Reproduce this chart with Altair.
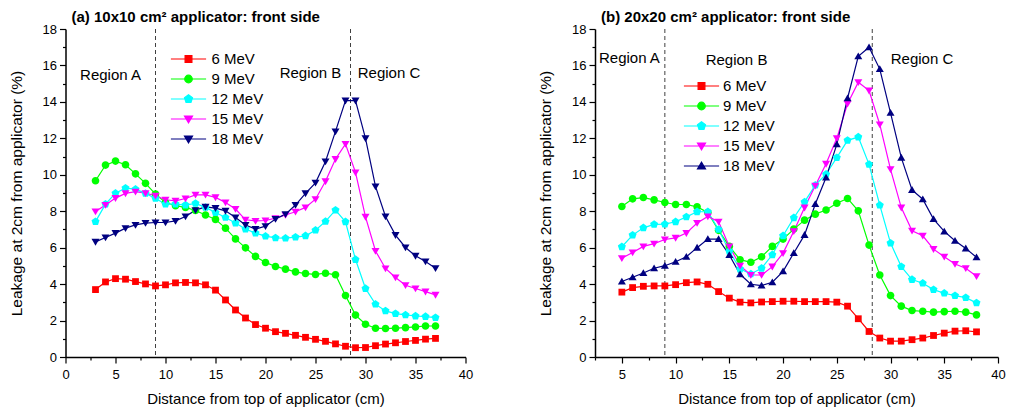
import altair as alt
import pandas as pd

FONT = "Liberation Sans"
series = ["6 MeV", "9 MeV", "12 MeV", "15 MeV", "18 MeV"]
colors = ["#FF0000", "#00FF00", "#00FFFF", "#FF00FF", "#000080"]

# ---- panel (a): 10x10 cm2 applicator ----
a_x = list(range(3, 38))
a_6 = [3.70, 4.12, 4.30, 4.27, 4.14, 4.01, 3.90, 3.96, 4.07, 4.09,
       4.07, 3.96, 3.67, 3.13, 2.58, 2.14, 1.78, 1.58, 1.39, 1.30,
       1.19, 1.08, 0.97, 0.86, 0.72, 0.59, 0.51, 0.52, 0.62, 0.71,
       0.78, 0.85, 0.91, 0.98, 1.02]
a_9 = [9.67, 10.53, 10.75, 10.55, 10.05, 9.53, 8.94, 8.48, 8.30, 8.21,
       8.04, 7.79, 7.55, 7.07, 6.48, 5.99, 5.52, 5.19, 4.97, 4.82,
       4.67, 4.58, 4.53, 4.60, 4.51, 3.37, 2.30, 1.80, 1.58, 1.56,
       1.58, 1.61, 1.65, 1.70, 1.70]
a_12 = [7.43, 8.39, 8.99, 9.27, 9.21, 8.98, 8.70, 8.39, 8.39, 8.34,
        8.43, 8.21, 7.93, 7.66, 7.35, 7.02, 6.80, 6.63, 6.54, 6.52,
        6.58, 6.65, 6.96, 7.44, 8.06, 7.42, 5.35, 3.76, 2.90, 2.53,
        2.38, 2.31, 2.25, 2.22, 2.16]
a_15 = [7.99, 8.34, 8.72, 8.98, 9.07, 8.99, 8.85, 8.63, 8.57, 8.70,
        8.90, 8.90, 8.76, 8.48, 8.12, 7.53, 7.47, 7.49, 7.62, 7.79,
        7.97, 8.21, 8.66, 9.64, 10.86, 11.69, 10.13, 7.69, 5.82, 4.86,
        4.36, 3.94, 3.76, 3.59, 3.41]
a_18 = [6.32, 6.56, 6.80, 7.07, 7.25, 7.35, 7.38, 7.38, 7.47, 7.71,
        8.06, 8.24, 8.17, 8.02, 7.66, 7.24, 7.02, 7.18, 7.57, 7.84,
        8.34, 8.98, 9.56, 10.73, 12.38, 14.07, 14.07, 12.00, 9.36, 7.71,
        6.69, 6.01, 5.55, 5.24, 4.87]

# ---- panel (b): 20x20 cm2 applicator ----
b_x = list(range(5, 39))
b_6 = [3.56, 3.81, 3.88, 3.90, 3.90, 3.97, 4.08, 4.12, 3.99, 3.59,
       3.23, 3.01, 2.97, 3.02, 3.04, 3.06, 3.06, 3.04, 3.04, 3.04,
       3.01, 2.79, 2.10, 1.40, 1.04, 0.87, 0.87, 0.95, 1.04, 1.18,
       1.31, 1.42, 1.44, 1.38]
b_9 = [8.26, 8.68, 8.75, 8.62, 8.48, 8.37, 8.37, 8.24, 7.93, 6.95,
       6.07, 5.34, 5.20, 5.50, 6.07, 6.47, 7.02, 7.51, 7.84, 8.07,
       8.44, 8.70, 8.02, 6.14, 4.50, 3.37, 2.79, 2.55, 2.51, 2.46,
       2.49, 2.51, 2.46, 2.31]
b_12 = [6.05, 6.69, 7.09, 7.28, 7.29, 7.42, 7.69, 7.97, 7.97, 7.00,
        5.80, 4.83, 4.56, 4.87, 5.61, 6.65, 7.64, 8.51, 9.43, 10.03,
        10.94, 11.89, 12.07, 10.57, 8.33, 6.25, 4.96, 4.25, 4.05, 3.70,
        3.50, 3.37, 3.26, 2.97]
b_15 = [5.42, 5.74, 6.07, 6.22, 6.45, 6.54, 6.80, 7.35, 7.71, 7.42,
        6.07, 5.01, 4.50, 4.50, 4.96, 5.70, 6.90, 8.20, 9.40, 10.60,
        12.00, 13.90, 15.08, 14.62, 12.76, 10.30, 8.20, 6.93, 6.65, 5.92,
        5.50, 5.10, 4.87, 4.43]
b_18 = [4.14, 4.38, 4.61, 4.87, 5.01, 5.23, 5.50, 6.00, 6.47, 6.47,
        5.60, 4.54, 3.99, 3.92, 4.10, 4.70, 5.71, 6.70, 8.40, 9.85,
        11.67, 14.20, 16.50, 17.00, 15.80, 13.40, 10.94, 9.17, 8.66, 7.57,
        6.89, 6.38, 5.96, 5.47]

# region boundaries and labels
a_dashes = [9.0, 28.5]
b_dashes = [9.0, 28.3]
region_names = ["Region A", "Region B", "Region C"]
a_region_x = [4.5, 24.5, 32.35]
a_region_y = [15.45, 15.6, 15.6]
b_region_x = [5.7, 15.67, 32.93]
b_region_y = [16.4, 16.32, 16.36]

y_major = list(range(0, 19, 2))
y_minor = list(range(1, 18, 2))
a_xmajor = list(range(0, 41, 5))
a_xminor = [2.5 + 5 * i for i in range(8)]
b_xmajor = list(range(5, 41, 5))
b_xminor = [2.5 + 5 * i for i in range(8)]

# marker shapes (custom paths) and legend symbols (line + marker)
LINE = "M-4.4,0H4.4"
SQ = "M-0.85,-0.85H0.85V0.85H-0.85Z"
CI = "M0.95,0A0.95,0.95,0,1,1,-0.95,0A0.95,0.95,0,1,1,0.95,0Z"
PE = "M0,-1.05L1,-0.32L0.62,0.85L-0.62,0.85L-1,-0.32Z"
TD = "M-1,-0.75H1L0,0.95Z"
TU = "M-1,0.75H1L0,-0.95Z"
a_shapes = [SQ, CI, PE, TD, TD]
b_shapes = [SQ, CI, PE, TD, TU]


def make_df(xs, cols):
    rows = []
    for s, vals in zip(series, cols):
        for xv, yv in zip(xs, vals):
            rows.append({"x": xv, "v": yv, "series": s})
    return pd.DataFrame(rows)


def panel(df, xdom, xmaj, xmin, dashes, rx, ry, title, shapes,
          width, height, lx, ly, lo):
    xsc = alt.Scale(domain=xdom, nice=False, zero=False)
    ysc = alt.Scale(domain=[0, 18], nice=False, zero=False)
    xax = alt.Axis(values=xmaj, title="Distance from top of applicator (cm)",
                   tickSize=6, tickWidth=1.2, tickColor="black",
                   domainColor="black", domainWidth=1.5, grid=False,
                   labelFont=FONT, labelFontSize=13, labelColor="black",
                   labelPadding=5, labelFlush=False, labelOverlap=False,
                   format="d", titleFont=FONT, titleFontSize=15,
                   titleFontWeight="normal", titleColor="black",
                   titlePadding=10)
    yax = alt.Axis(values=y_major, title="Leakage at 2cm from applicator (%)",
                   tickSize=6, tickWidth=1.2, tickColor="black",
                   domainColor="black", domainWidth=1.5, grid=False,
                   labelFont=FONT, labelFontSize=13, labelColor="black",
                   labelPadding=3, labelFlush=False, labelOverlap=False,
                   format="d", titleFont=FONT, titleFontSize=15.5,
                   titleFontWeight="normal", titleColor="black",
                   titlePadding=18)
    X = alt.X("x:Q", scale=xsc, axis=xax)
    Y = alt.Y("v:Q", scale=ysc, axis=yax)
    col = alt.Color("series:N", scale=alt.Scale(domain=series, range=colors),
                    legend=None)
    base = alt.Chart(df)

    dash = alt.Chart(pd.DataFrame({"x": dashes})).mark_rule(
        strokeDash=[4, 3], color="#404040", strokeWidth=1).encode(x=X)
    lines = base.mark_line(strokeWidth=1.2).encode(x=X, y=Y, color=col)
    pts = base.mark_point(filled=True, size=64, opacity=1).encode(
        x=X, y=Y, color=col,
        shape=alt.Shape("series:N",
                        scale=alt.Scale(domain=series, range=shapes),
                        legend=None))

    def leg():
        return alt.Legend(orient="none", legendX=lx, legendY=ly, title=None,
                          symbolSize=64, symbolStrokeWidth=1.2,
                          symbolOpacity=1, symbolOffset=0, labelOffset=lo,
                          labelFont=FONT, labelFontSize=15,
                          labelColor="black", rowPadding=4, padding=0)

    legpts = base.mark_point(filled=True, size=64, opacity=0).encode(
        x=X, y=Y,
        shape=alt.Shape("series:N",
                        scale=alt.Scale(domain=series,
                                        range=[LINE + s for s in shapes]),
                        legend=leg()),
        fill=alt.Fill("series:N", scale=alt.Scale(domain=series, range=colors),
                      legend=leg()),
        stroke=alt.Stroke("series:N",
                          scale=alt.Scale(domain=series, range=colors),
                          legend=leg()))

    tdf = pd.DataFrame({"x": rx, "v": ry, "label": region_names})
    texts = alt.Chart(tdf).mark_text(font=FONT, fontSize=15,
                                     color="black").encode(
        x=X, y=Y, text="label:N")

    inner = alt.layer(dash, lines, pts, legpts, texts).resolve_scale(
        shape="independent", fill="independent", stroke="independent")

    minor = base.mark_point(opacity=0).encode(
        x=alt.X("x:Q", scale=xsc,
                axis=alt.Axis(values=xmin, orient="bottom", labels=False,
                              title=None, domain=False, grid=False,
                              tickSize=3, tickWidth=1.2, tickColor="black")),
        y=alt.Y("v:Q", scale=ysc,
                axis=alt.Axis(values=y_minor, orient="left", labels=False,
                              title=None, domain=False, grid=False,
                              tickSize=3, tickWidth=1.2, tickColor="black")))

    return alt.layer(inner, minor).resolve_scale(
        x="independent", y="independent").properties(
        width=width, height=height,
        title=alt.TitleParams(text=title, anchor="start", frame="group",
                              font=FONT, fontSize=15, fontWeight="bold",
                              color="black", dx=6, offset=-2))


left = panel(make_df(a_x, [a_6, a_9, a_12, a_15, a_18]), [0, 40],
             a_xmajor, a_xminor, a_dashes, a_region_x, a_region_y,
             "(a) 10x10 cm\u00b2 applicator: front side", a_shapes,
             400, 328, 115.5, 22.5, 15.5)
right = panel(make_df(b_x, [b_6, b_9, b_12, b_15, b_18]), [2.5, 40],
              b_xmajor, b_xminor, b_dashes, b_region_x, b_region_y,
              "(b) 20x20 cm\u00b2 applicator: front side", b_shapes,
              403, 328, 99, 49.5, 14)

chart = alt.hconcat(left, right, spacing=64.5).configure_view(
    stroke=None).properties(
    padding={"left": 8.5, "top": 10, "right": 4, "bottom": 4},
    background="white")

chart.save("out.html", embed_options={"renderer": "svg", "actions": False})
